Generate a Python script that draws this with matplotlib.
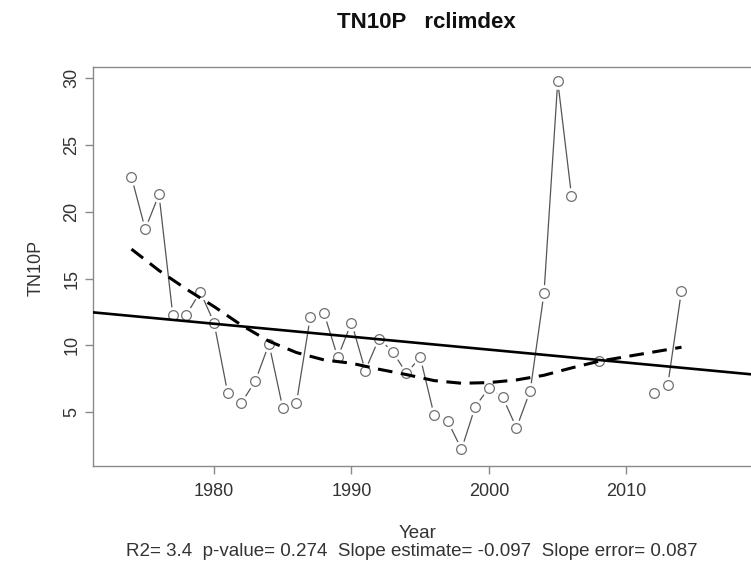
import numpy as np
import matplotlib.pyplot as plt

# yearly TN10P values (nan = missing year)
years = [1974, 1975, 1976, 1977, 1978, 1979, 1980, 1981, 1982, 1983, 1984,
         1985, 1986, 1987, 1988, 1989, 1990, 1991, 1992, 1993, 1994, 1995,
         1996, 1997, 1998, 1999, 2000, 2001, 2002, 2003, 2004, 2005, 2006,
         2007, 2008, 2009, 2010, 2011, 2012, 2013, 2014]
tn10p = [22.6, 18.7, 21.3, 12.3, 12.3, 14.0, 11.7, 6.4, 5.7, 7.3, 10.1,
         5.3, 5.7, 12.1, 12.4, 9.1, 11.7, 8.1, 10.5, 9.5, 7.9, 9.1,
         4.8, 4.3, 2.2, 5.4, 6.8, 6.1, 3.8, 6.6, 13.9, 29.8, 21.2,
         np.nan, 8.8, np.nan, np.nan, np.nan, 6.4, 7.0, 14.1]

# lowess smooth (dashed)
lowess_years = [1974, 1976, 1978, 1980, 1982, 1984, 1986, 1988, 1990, 1992,
                1994, 1996, 1998, 2000, 2002, 2004, 2006, 2008, 2010, 2012, 2014]
lowess_vals = [17.2, 15.6, 14.2, 12.9, 11.5, 10.3, 9.45, 8.9, 8.65, 8.2,
               7.8, 7.35, 7.15, 7.2, 7.4, 7.75, 8.3, 8.8, 9.15, 9.5, 9.85]

# linear trend
slope = -0.097
trend_at_2000 = 9.67

xticks = [1980, 1990, 2000, 2010]
yticks = [5, 10, 15, 20, 25, 30]

subtitle = "R2= 3.4  p-value= 0.274  Slope estimate= -0.097  Slope error= 0.087"

W, H = 751, 570
fig = plt.figure(figsize=(W / 100, H / 100), dpi=100)
plt.rcParams['font.family'] = ['Liberation Sans', 'DejaVu Sans']

ax = fig.add_axes([93 / W, 104 / H, 682 / W, 399 / H])

x = np.array(years, dtype=float)
y = np.array(tn10p, dtype=float)

# R type="b": lines with gaps around the points
ax.plot(x, y, color='#555555', lw=0.9, zorder=2)
ax.plot(x, y, 'o', ms=12, mfc='white', mec='none', zorder=3)
ax.plot(x, y, 'o', ms=7, mfc='white', mec='#707070', mew=0.9, zorder=4)

ax.plot(lowess_years, lowess_vals, color='black', lw=2.2, dashes=(4.8, 2.8), zorder=5)
ax.axline((2000, trend_at_2000), slope=slope, color='black', lw=1.9, zorder=5)

ax.set_xlim(1971.2, 2020.8)
ax.set_ylim(0.95, 30.85)
ax.set_xticks(xticks)
ax.set_yticks(yticks)

for s in ax.spines.values():
    s.set_color('#8a8a8a')
    s.set_linewidth(1.0)
ax.tick_params(colors='#8a8a8a', labelcolor='#333333', length=6, width=1.0,
               labelsize=13)
ax.tick_params(axis='x', pad=6)
ax.tick_params(axis='y', pad=3)
for lab in ax.get_yticklabels():
    lab.set_rotation(90)
    lab.set_va('center')

fig.text(426 / W, 1 - 22 / H, "TN10P   rclimdex", ha='center', va='center',
         fontsize=16, fontweight='bold', color='#111111')
fig.text(36 / W, 1 - 268 / H, "TN10P", rotation=90, ha='center', va='center',
         fontsize=13, color='#333333')
fig.text(418 / W, 1 - 533 / H, "Year", ha='center', va='center',
         fontsize=13.5, color='#333333')
fig.text(412 / W, 1 - 552 / H, subtitle, ha='center', va='center',
         fontsize=13.5, color='#333333')

fig.savefig('out.png', dpi=100)
